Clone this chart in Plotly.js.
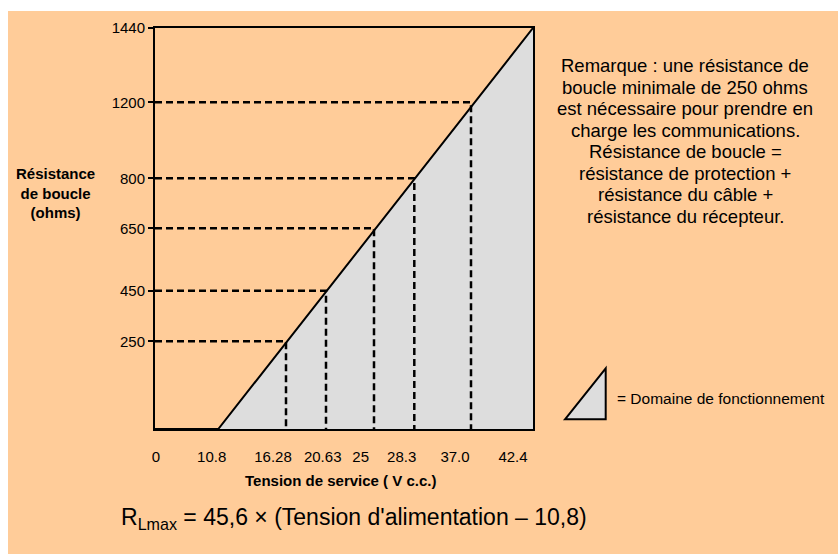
<!DOCTYPE html>
<html>
<head>
<meta charset="utf-8">
<script src="https://cdn.plot.ly/plotly-3.0.1.min.js"></script>
<style>html,body{margin:0;padding:0;background:#fff;}#chart{width:838px;height:554px;}</style>
</head>
<body>
<div id="chart"></div>
<script>
// ---- data ----
const voltage = [0, 10.8, 16.28, 20.63, 25, 28.3, 37.0, 42.4];           // V c.c.
const voltageLabels = ['0', '10.8', '16.28', '20.63', '25', '28.3', '37.0', '42.4'];
const resistance = [250, 450, 650, 800, 1200, 1440];                    // ohms, at voltage[2..7]
const resistanceLabels = ['250', '450', '650', '800', '1200', '1440'];
const noteLines = [
  'Remarque : une résistance de',
  'boucle minimale de 250 ohms',
  'est nécessaire pour prendre en',
  'charge les communications.',
  'Résistance de boucle =',
  'résistance de protection +',
  'résistance du câble +',
  'résistance du récepteur.'
];

// ---- schematic layout (the original drawing is not to scale) ----
const voltageSlot = [0, 63.3, 131, 171, 219, 259.3, 316, 378];
const voltageLabelSlot = [1, 56.7, 118, 167.7, 205.7, 246.7, 300, 358];
const resistanceSlot = [87.7, 138.3, 200.7, 250.7, 326.7, 401];

const FONT = 'Arial, "Liberation Sans", sans-serif';
const PEACH = '#FFCC99';
const GREY = '#DDDDDD';

// plot area geometry in pixels
const L = 155, R = 305, T = 28, B = 125, W = 838 - L - R, H = 554 - T - B;
const px = x => (x - L) / W;
const py = y => (554 - B - y) / H;

const traces = [];
const vMinIdx = voltage.indexOf(10.8);
const vMaxIdx = voltage.length - 1;
// operating domain
traces.push({
  x: [voltageSlot[vMinIdx], voltageSlot[vMaxIdx], voltageSlot[vMaxIdx], voltageSlot[vMinIdx]],
  y: [0, resistanceSlot[resistanceSlot.length - 1], 0, 0],
  mode: 'lines', fill: 'toself', fillcolor: GREY,
  line: {width: 0}, hoverinfo: 'skip', showlegend: false
});
// dashed guides
for (let i = 0; i < resistance.length - 1; i++) {
  const xs = voltageSlot[i + 2], ys = resistanceSlot[i];
  traces.push({
    x: [0, xs, xs], y: [ys, ys, 0], mode: 'lines',
    line: {color: '#000', width: 2.5, dash: '7px,4px'},
    hoverinfo: 'skip', showlegend: false
  });
}
// baseline 0..10.8 and diagonal
traces.push({
  x: [voltageSlot[0], voltageSlot[vMinIdx], voltageSlot[vMaxIdx]],
  y: [0, 0, resistanceSlot[resistanceSlot.length - 1]],
  mode: 'lines', line: {color: '#000', width: 2},
  hoverinfo: 'skip', showlegend: false
});

const annotations = [];
annotations.push({
  xref: 'paper', yref: 'paper', x: px(55), y: py(192.5), xanchor: 'center', yanchor: 'middle',
  text: '<b>Résistance<br>de boucle<br>(ohms)</b>', showarrow: false, align: 'center',
  font: {family: FONT, size: 15, color: '#000'}
});
annotations.push({
  xref: 'paper', yref: 'paper', x: px(340), y: py(481), xanchor: 'center', yanchor: 'middle',
  text: '<b>Tension de service ( V c.c.)</b>', showarrow: false,
  font: {family: FONT, size: 15, color: '#000'}
});
noteLines.forEach((t, i) => {
  annotations.push({
    xref: 'paper', yref: 'paper', x: px(685), y: py(65.5 + i * 21.5), xanchor: 'center', yanchor: 'middle',
    text: t, showarrow: false, font: {family: FONT, size: 18.5, color: '#000'}
  });
});
annotations.push({
  xref: 'paper', yref: 'paper', x: px(615), y: py(398), xanchor: 'left', yanchor: 'middle',
  text: '= Domaine de fonctionnement', showarrow: false,
  font: {family: FONT, size: 15.5, color: '#000'}
});
annotations.push({
  xref: 'paper', yref: 'paper', x: px(119), y: py(518), xanchor: 'left', yanchor: 'middle',
  text: 'R<sub>Lmax</sub> = 45,6 × (Tension d\'alimentation – 10,8)', showarrow: false,
  font: {family: FONT, size: 23, color: '#000'}
});

const shapes = [
  // white margin strips of the original picture
  {type: 'rect', xref: 'paper', yref: 'paper', x0: px(-10), x1: px(850), y0: py(11), y1: py(-10),
   fillcolor: '#fff', line: {width: 0}, layer: 'above'},
  {type: 'rect', xref: 'paper', yref: 'paper', x0: px(-10), x1: px(8), y0: py(560), y1: py(-10),
   fillcolor: '#fff', line: {width: 0}, layer: 'above'},
  // legend triangle
  {type: 'path', xref: 'paper', yref: 'paper',
   path: `M ${px(565)} ${py(419.3)} L ${px(605.7)} ${py(368.3)} L ${px(605.7)} ${py(419.3)} Z`,
   fillcolor: GREY, line: {color: '#000', width: 2}, layer: 'above'}
];

const layout = {
  width: 838, height: 554,
  margin: {l: L, r: R, t: T, b: B, pad: 0},
  paper_bgcolor: PEACH, plot_bgcolor: PEACH,
  showlegend: false,
  font: {family: FONT, size: 15, color: '#000'},
  xaxis: {
    range: [0, W], showgrid: false, zeroline: false,
    showline: true, mirror: true, linecolor: '#000', linewidth: 2,
    tickmode: 'array', tickvals: voltageLabelSlot, ticktext: voltageLabels,
    ticks: '', ticklabelstandoff: 13,
    tickfont: {family: FONT, size: 15, color: '#000'}, fixedrange: true
  },
  yaxis: {
    range: [0, H], showgrid: false, zeroline: false,
    showline: true, mirror: true, linecolor: '#000', linewidth: 2,
    tickmode: 'array', tickvals: resistanceSlot, ticktext: resistanceLabels,
    ticks: 'outside', ticklen: 5, tickwidth: 2, tickcolor: '#000', ticklabelstandoff: 0,
    tickfont: {family: FONT, size: 15, color: '#000'}, fixedrange: true
  },
  annotations: annotations,
  shapes: shapes
};

Plotly.newPlot('chart', traces, layout, {displayModeBar: false, staticPlot: true});
</script>
</body>
</html>
